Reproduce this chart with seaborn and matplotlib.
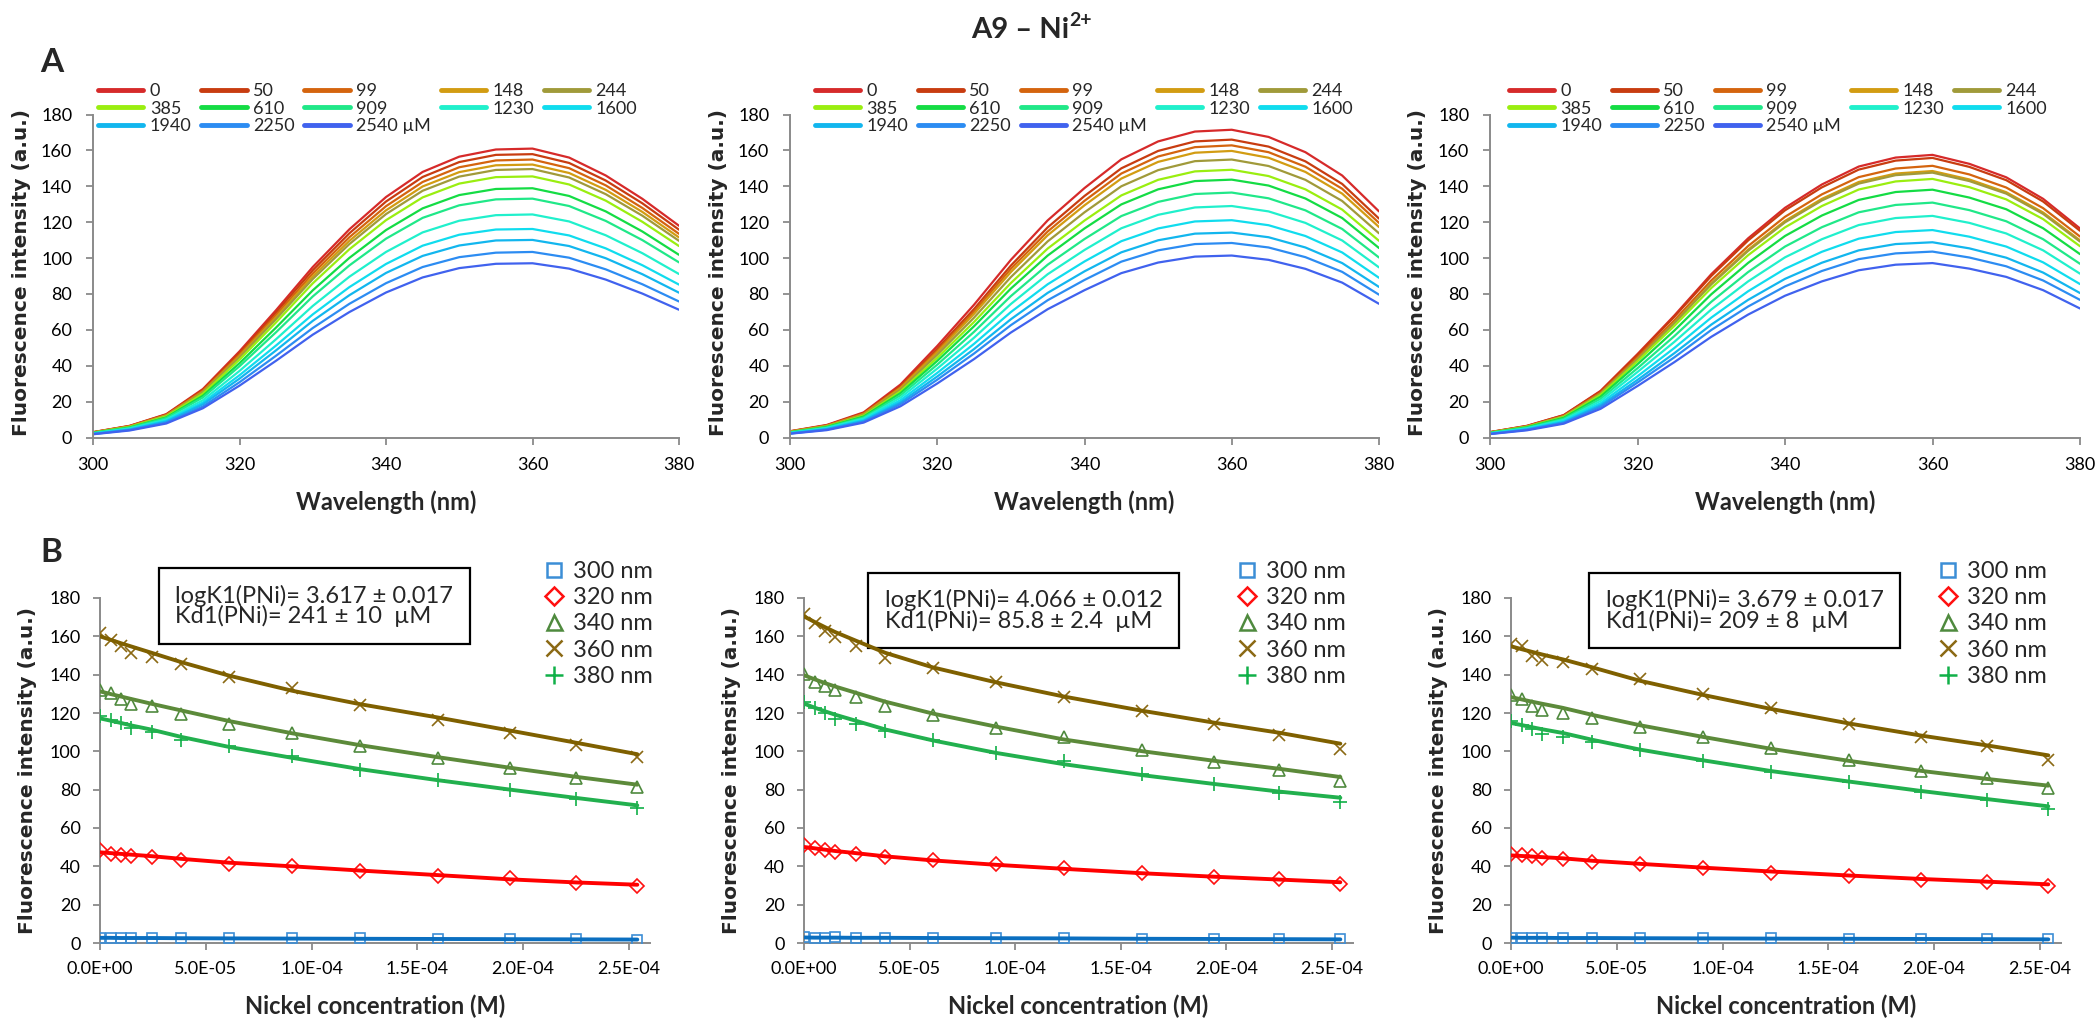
import matplotlib
matplotlib.use("Agg")
import matplotlib.pyplot as plt
import seaborn as sns
import pandas as pd
from matplotlib.lines import Line2D
from matplotlib.text import Annotation
from matplotlib.ticker import FuncFormatter, MultipleLocator

# ---------------- data ----------------
WAVELENGTH_NM = [300, 305, 310, 315, 320, 325, 330, 335, 340, 345, 350, 355, 360, 365, 370, 375, 380]
CONC_LABELS = ["0", "50", "99", "148", "244", "385", "610", "909", "1230", "1600", "1940", "2250", "2540 µM"]
SPECTRA_COLORS = ["#D62A2A", "#C83C10", "#D4640E", "#D29C12", "#A09A3A", "#9AEE10", "#14DC44",
                  "#20E888", "#20F0CC", "#10DCEE", "#12B6EE", "#2C8CF2", "#4062EE"]

SPECTRA_LEFT = [
    [3.0, 6.5, 13.0, 27.0, 48.0, 71.0, 95.0, 116.0, 134.0, 148.0, 156.5, 160.5, 161.0, 156.0, 146.0, 133.0, 118.0],
    [2.9, 6.4, 12.8, 26.5, 47.1, 69.7, 93.2, 113.8, 131.5, 145.2, 153.5, 157.5, 157.9, 153.0, 143.2, 130.5, 115.8],
    [2.9, 6.3, 12.5, 26.0, 46.2, 68.3, 91.4, 111.6, 128.9, 142.4, 150.6, 154.4, 154.9, 150.1, 140.5, 127.9, 113.5],
    [2.8, 6.1, 12.3, 25.5, 45.4, 67.1, 89.8, 109.6, 126.6, 139.9, 147.9, 151.7, 152.1, 147.4, 138.0, 125.7, 111.5],
    [2.8, 6.0, 12.1, 25.1, 44.6, 66.0, 88.3, 107.8, 124.5, 137.5, 145.4, 149.1, 149.6, 144.9, 135.6, 123.6, 109.6],
    [2.7, 5.9, 11.8, 24.4, 43.4, 64.2, 85.9, 104.9, 121.1, 133.8, 141.5, 145.1, 145.5, 141.0, 132.0, 120.2, 106.7],
    [2.6, 5.6, 11.2, 23.3, 41.4, 61.3, 82.0, 100.1, 115.6, 127.7, 135.1, 138.5, 138.9, 134.6, 126.0, 114.8, 101.8],
    [2.5, 5.4, 10.8, 22.3, 39.7, 58.7, 78.6, 95.9, 110.8, 122.4, 129.4, 132.7, 133.1, 129.0, 120.7, 110.0, 97.6],
    [2.3, 5.0, 10.0, 20.8, 37.1, 54.8, 73.3, 89.6, 103.4, 114.3, 120.8, 123.9, 124.3, 120.4, 112.7, 102.7, 91.1],
    [2.2, 4.7, 9.4, 19.5, 34.7, 51.3, 68.6, 83.8, 96.7, 106.9, 113.0, 115.9, 116.2, 112.6, 105.4, 96.0, 85.2],
    [2.1, 4.4, 8.9, 18.5, 32.8, 48.6, 65.0, 79.3, 91.7, 101.2, 107.0, 109.8, 110.1, 106.7, 99.9, 91.0, 80.7],
    [1.9, 4.2, 8.3, 17.3, 30.8, 45.6, 61.0, 74.5, 86.0, 95.0, 100.5, 103.0, 103.4, 100.2, 93.7, 85.4, 75.8],
    [1.8, 3.9, 7.8, 16.3, 28.9, 42.8, 57.3, 69.9, 80.8, 89.2, 94.4, 96.8, 97.1, 94.1, 88.0, 80.2, 71.2],
]
SPECTRA_MIDDLE = [
    [3.5, 7.0, 14.0, 29.5, 51.0, 74.0, 99.0, 121.0, 139.0, 155.0, 165.0, 170.5, 171.5, 167.5, 159.0, 146.0, 126.0],
    [3.4, 6.8, 13.6, 28.6, 49.4, 71.6, 95.8, 117.1, 134.6, 150.0, 159.7, 165.0, 166.0, 162.1, 153.9, 141.3, 122.0],
    [3.3, 6.6, 13.3, 28.0, 48.4, 70.2, 94.0, 114.8, 131.9, 147.1, 156.6, 161.8, 162.8, 159.0, 150.9, 138.6, 119.6],
    [3.3, 6.5, 13.0, 27.5, 47.5, 68.9, 92.2, 112.7, 129.4, 144.3, 153.6, 158.7, 159.7, 155.9, 148.0, 135.9, 117.3],
    [3.2, 6.3, 12.6, 26.6, 46.1, 66.8, 89.4, 109.3, 125.5, 140.0, 149.0, 154.0, 154.9, 151.3, 143.6, 131.8, 113.8],
    [3.0, 6.1, 12.2, 25.7, 44.4, 64.4, 86.1, 105.3, 120.9, 134.9, 143.6, 148.3, 149.2, 145.7, 138.3, 127.0, 109.6],
    [2.9, 5.9, 11.7, 24.7, 42.7, 62.0, 83.0, 101.4, 116.5, 129.9, 138.3, 142.9, 143.7, 140.4, 133.2, 122.3, 105.6],
    [2.8, 5.6, 11.1, 23.5, 40.6, 58.9, 78.8, 96.3, 110.6, 123.4, 131.3, 135.7, 136.5, 133.3, 126.6, 116.2, 100.3],
    [2.6, 5.3, 10.5, 22.2, 38.4, 55.6, 74.4, 91.0, 104.5, 116.6, 124.1, 128.2, 129.0, 126.0, 119.6, 109.8, 94.8],
    [2.5, 4.9, 9.9, 20.8, 36.0, 52.2, 69.9, 85.4, 98.1, 109.4, 116.5, 120.4, 121.1, 118.3, 112.3, 103.1, 89.0],
    [2.3, 4.7, 9.3, 19.6, 34.0, 49.3, 65.9, 80.6, 92.6, 103.2, 109.9, 113.6, 114.2, 111.6, 105.9, 97.2, 83.9],
    [2.2, 4.4, 8.8, 18.6, 32.2, 46.8, 62.6, 76.5, 87.8, 98.0, 104.3, 107.8, 108.4, 105.9, 100.5, 92.3, 79.6],
    [2.1, 4.1, 8.3, 17.4, 30.1, 43.7, 58.5, 71.5, 82.1, 91.6, 97.5, 100.8, 101.4, 99.0, 94.0, 86.3, 74.5],
]
SPECTRA_RIGHT = [
    [3.0, 6.5, 12.5, 26.0, 46.5, 68.0, 91.0, 111.0, 128.0, 141.0, 151.0, 156.0, 157.5, 152.5, 145.0, 133.0, 116.5],
    [3.0, 6.4, 12.4, 25.7, 46.0, 67.3, 90.0, 109.8, 126.6, 139.4, 149.3, 154.3, 155.8, 150.8, 143.4, 131.5, 115.2],
    [2.9, 6.2, 12.0, 25.0, 44.7, 65.3, 87.5, 106.7, 123.0, 135.5, 145.1, 149.9, 151.4, 146.6, 139.3, 127.8, 112.0],
    [2.8, 6.1, 11.8, 24.5, 43.8, 64.1, 85.8, 104.7, 120.7, 133.0, 142.4, 147.1, 148.5, 143.8, 136.7, 125.4, 109.9],
    [2.8, 6.1, 11.7, 24.4, 43.6, 63.7, 85.3, 104.0, 119.9, 132.1, 141.5, 146.2, 147.6, 142.9, 135.9, 124.6, 109.2],
    [2.7, 5.9, 11.4, 23.8, 42.5, 62.2, 83.3, 101.6, 117.1, 129.0, 138.2, 142.7, 144.1, 139.5, 132.7, 121.7, 106.6],
    [2.6, 5.7, 11.0, 22.8, 40.8, 59.6, 79.8, 97.3, 112.3, 123.7, 132.4, 136.8, 138.1, 133.7, 127.2, 116.6, 102.2],
    [2.5, 5.4, 10.4, 21.6, 38.6, 56.5, 75.6, 92.2, 106.4, 117.2, 125.5, 129.6, 130.9, 126.7, 120.5, 110.5, 96.8],
    [2.4, 5.1, 9.8, 20.4, 36.5, 53.3, 71.3, 87.0, 100.4, 110.5, 118.4, 122.3, 123.5, 119.6, 113.7, 104.3, 91.3],
    [2.2, 4.8, 9.2, 19.1, 34.1, 49.9, 66.8, 81.5, 94.0, 103.5, 110.8, 114.5, 115.6, 111.9, 106.4, 97.6, 85.5],
    [2.1, 4.5, 8.6, 18.0, 32.1, 47.0, 62.9, 76.7, 88.4, 97.4, 104.3, 107.8, 108.8, 105.4, 100.2, 91.9, 80.5],
    [2.0, 4.3, 8.2, 17.1, 30.6, 44.7, 59.9, 73.0, 84.2, 92.8, 99.4, 102.6, 103.6, 100.3, 95.4, 87.5, 76.7],
    [1.9, 4.0, 7.7, 16.0, 28.7, 42.0, 56.1, 68.5, 79.0, 87.0, 93.2, 96.3, 97.2, 94.1, 89.5, 82.1, 71.9],
]

NI_CONC_M = [0.0, 5.0e-6, 9.9e-6, 1.48e-5, 2.44e-5, 3.85e-5, 6.10e-5, 9.09e-5, 1.23e-4, 1.60e-4, 1.94e-4, 2.25e-4, 2.54e-4]
SERIES_NAMES = ["300 nm", "320 nm", "340 nm", "360 nm", "380 nm"]

# measured points (open markers)
POINTS_LEFT = [
    [2.8, 2.6, 2.7, 2.6, 2.6, 2.5, 2.6, 2.4, 2.4, 2.2, 2.1, 1.9, 1.8],
    [48.3, 46.6, 45.9, 45.6, 44.9, 43.1, 41.4, 40.2, 37.6, 35.1, 33.7, 31.5, 29.7],
    [132.2, 130.4, 127.5, 124.5, 123.8, 119.3, 114.4, 109.7, 102.6, 96.3, 91.5, 86.3, 81.4],
    [161.7, 157.9, 154.8, 151.5, 149.2, 145.7, 138.8, 132.9, 124.0, 116.5, 109.6, 103.1, 96.9],
    [118.3, 116.5, 115.0, 112.2, 110.3, 105.7, 102.6, 97.6, 90.4, 84.9, 80.0, 75.1, 70.4],
]
FITS_LEFT = [
    [2.7, 2.7, 2.6, 2.6, 2.6, 2.5, 2.4, 2.3, 2.2, 2.1, 2.0, 1.9, 1.8],
    [47.3, 46.9, 46.5, 46.1, 45.3, 43.9, 41.9, 40.0, 37.8, 35.4, 33.2, 31.6, 30.4],
    [131.3, 129.9, 128.6, 127.3, 124.8, 121.3, 115.8, 109.4, 103.2, 96.9, 91.4, 86.7, 82.6],
    [160.0, 158.2, 156.4, 154.7, 151.4, 146.5, 139.5, 131.6, 124.6, 117.6, 110.8, 104.5, 98.5],
    [117.2, 116.0, 114.8, 113.5, 111.3, 107.5, 102.3, 96.6, 90.7, 84.9, 80.0, 75.7, 71.8],
]
POINTS_MIDDLE = [
    [3.0, 2.8, 2.8, 2.9, 2.8, 2.7, 2.6, 2.5, 2.4, 2.3, 2.1, 2.0, 1.9],
    [51.0, 49.7, 48.7, 47.3, 46.6, 44.9, 43.1, 41.0, 39.0, 36.5, 34.4, 33.2, 31.0],
    [140.5, 136.2, 133.9, 131.8, 128.3, 123.5, 118.8, 112.2, 107.5, 100.5, 94.4, 90.4, 84.5],
    [171.8, 167.0, 162.8, 159.7, 155.1, 148.9, 143.7, 136.0, 128.3, 121.0, 114.4, 108.3, 101.4],
    [125.7, 122.8, 120.0, 116.7, 114.4, 110.6, 105.7, 99.3, 94.8, 88.3, 83.1, 78.3, 73.7],
]
FITS_MIDDLE = [
    [2.9, 2.8, 2.8, 2.8, 2.7, 2.7, 2.6, 2.5, 2.4, 2.2, 2.1, 2.0, 1.9],
    [50.1, 49.4, 48.7, 48.0, 46.9, 45.2, 43.1, 40.8, 38.7, 36.4, 34.6, 33.1, 31.7],
    [139.7, 137.6, 135.6, 133.8, 130.6, 125.9, 119.7, 112.9, 106.2, 100.1, 95.1, 90.9, 86.6],
    [170.4, 167.5, 164.8, 162.2, 157.8, 151.4, 143.8, 136.0, 128.6, 121.2, 115.0, 109.7, 104.0],
    [124.9, 122.8, 120.9, 119.1, 116.0, 111.4, 105.7, 99.2, 93.3, 87.6, 83.0, 79.0, 75.8],
]
POINTS_RIGHT = [
    [2.8, 2.7, 2.8, 2.7, 2.8, 2.6, 2.5, 2.6, 2.5, 2.3, 2.1, 2.0, 1.9],
    [46.6, 45.9, 45.2, 44.3, 43.7, 42.3, 41.0, 39.1, 36.7, 34.8, 33.0, 31.7, 29.9],
    [129.2, 127.5, 123.7, 121.4, 120.0, 117.6, 112.7, 107.5, 101.9, 95.7, 89.7, 85.9, 80.9],
    [155.8, 154.8, 149.7, 147.8, 146.4, 143.1, 137.6, 130.1, 122.8, 114.4, 107.5, 102.8, 95.7],
    [115.7, 113.6, 111.8, 109.2, 107.5, 104.9, 100.5, 95.0, 89.2, 84.0, 79.0, 74.8, 70.1],
]
FITS_RIGHT = [
    [2.8, 2.7, 2.7, 2.7, 2.6, 2.6, 2.5, 2.4, 2.3, 2.2, 2.1, 2.0, 1.9],
    [45.7, 45.4, 45.1, 44.8, 44.2, 42.9, 41.3, 39.3, 37.3, 35.2, 33.4, 32.0, 30.6],
    [128.3, 127.1, 125.9, 124.8, 122.7, 119.0, 113.6, 107.5, 101.3, 95.0, 89.8, 85.6, 82.1],
    [154.8, 153.3, 151.9, 150.5, 148.0, 143.8, 136.8, 129.4, 122.1, 114.5, 108.2, 103.1, 97.9],
    [114.8, 113.7, 112.6, 111.5, 109.6, 106.0, 100.9, 95.3, 89.7, 84.2, 79.3, 75.1, 71.3],
]
BOX_TEXTS = [
    "logK1(PNi)= 3.617 ± 0.017\nKd1(PNi)= 241 ± 10  µM",
    "logK1(PNi)= 4.066 ± 0.012\nKd1(PNi)= 85.8 ± 2.4  µM",
    "logK1(PNi)= 3.679 ± 0.017\nKd1(PNi)= 209 ± 8  µM",
]

# ---------------- style ----------------
sns.set_theme(style="white")
plt.rcParams["font.family"] = ["Lato", "DejaVu Sans"]

AXIS_GREY = "#8A8A8A"
LINE_COLORS = ["#0B6FC0", "#FF0000", "#5C8A3A", "#7F6000", "#22B04E"]
MARK_COLORS = ["#3C8ED6", "#FF1010", "#4F8A3E", "#8B6914", "#10B048"]
MARKERS = ["s", "D", "^", "x", "+"]
MSIZE = [7, 7, 8, 9, 10]
YLABEL = "Fluorescence intensity (a.u.)"

fig = plt.figure(figsize=(20.97, 10.23), dpi=100)
fig.patch.set_facecolor("white")

W, H = 2097.0, 1023.0
top_pos = [(93, 586), (790, 589), (1490, 590)]
bot_pos = [(100, 550), (804, 549), (1511, 550)]
top_leg_x = [0.009, 0.042, 0.032]


def style_axes(ax):
    for s in ["top", "right"]:
        ax.spines[s].set_visible(False)
    for s in ["left", "bottom"]:
        ax.spines[s].set_color(AXIS_GREY)
        ax.spines[s].set_linewidth(1.4)
    ax.tick_params(axis="both", direction="out", length=5, width=1.3, color=AXIS_GREY,
                   labelsize=13, labelcolor="black", left=True, bottom=True)
    ax.grid(False)
    ax.set_facecolor("white")


# ---------------- top row: spectra ----------------
for k, ((x0, w), spectra) in enumerate(zip(top_pos, [SPECTRA_LEFT, SPECTRA_MIDDLE, SPECTRA_RIGHT])):
    ax = fig.add_axes([x0 / W, 1 - 437.5 / H, w / W, 323 / H])
    rows = []
    for lab, vals in zip(CONC_LABELS, spectra):
        for wl, v in zip(WAVELENGTH_NM, vals):
            rows.append((wl, v, lab))
    df = pd.DataFrame(rows, columns=["wl", "I", "conc"])
    sns.lineplot(data=df, x="wl", y="I", hue="conc", hue_order=CONC_LABELS,
                 palette=SPECTRA_COLORS, ax=ax, legend=False, linewidth=1.6,
                 estimator=None, sort=False)
    ax.set_xlim(300, 380)
    ax.set_ylim(0, 180)
    ax.xaxis.set_major_locator(MultipleLocator(20))
    ax.yaxis.set_major_locator(MultipleLocator(20))
    style_axes(ax)
    ax.tick_params(axis="x", pad=9)
    ax.tick_params(axis="y", pad=10)
    ax.set_xlabel("Wavelength (nm)", fontsize=17, fontweight="bold")
    ax.set_ylabel(YLABEL, fontsize=14.5, fontweight="bold", family="DejaVu Sans")
    ax.xaxis.set_label_coords(0.5, -0.163)
    ax.yaxis.set_label_coords(-0.106, 0.51)
    lines = ax.get_lines()[:13]
    order = [0, 5, 10, 1, 6, 11, 2, 7, 12, 3, 8, 4, 9]
    leg = ax.legend([lines[i] for i in order], [CONC_LABELS[i] for i in order], ncol=5,
                    loc="upper left", bbox_to_anchor=(top_leg_x[k], 1.097), frameon=False,
                    handlelength=2.5, handletextpad=0.35, columnspacing=0.55,
                    labelspacing=0.08, fontsize=13, borderpad=0, borderaxespad=0)
    for h in leg.get_lines():
        h.set_linewidth(3.5)

# ---------------- bottom row: binding ----------------
box_x = [0.137, 0.147, 0.172]
box_y = [0.977, 0.964, 0.964]
leg_x = [0.804, 0.785, 0.773]
for k, ((x0, w), pts_all, fit_all) in enumerate(zip(bot_pos, [POINTS_LEFT, POINTS_MIDDLE, POINTS_RIGHT],
                                                       [FITS_LEFT, FITS_MIDDLE, FITS_RIGHT])):
    ax = fig.add_axes([x0 / W, 1 - 943 / H, w / W, 345 / H])
    for i in range(5):
        sns.lineplot(x=NI_CONC_M, y=pts_all[i], ax=ax, color=MARK_COLORS[i], linestyle="",
                     marker=MARKERS[i], markersize=MSIZE[i], markerfacecolor="none",
                     markeredgecolor=MARK_COLORS[i], markeredgewidth=1.2,
                     estimator=None, sort=False, zorder=3)
        sns.lineplot(x=NI_CONC_M, y=fit_all[i], ax=ax, color=LINE_COLORS[i], linewidth=2.8,
                     estimator=None, sort=False, zorder=4)
    ax.set_xlim(0, 2.6e-4)
    ax.set_ylim(0, 180)
    ax.xaxis.set_major_locator(MultipleLocator(5e-5))
    ax.yaxis.set_major_locator(MultipleLocator(20))
    ax.xaxis.set_major_formatter(FuncFormatter(lambda v, p: f"{v:.1E}"))
    style_axes(ax)
    ax.tick_params(axis="x", pad=8, labelsize=13)
    ax.tick_params(axis="y", pad=9)
    ax.set_xlabel("Nickel concentration (M)", fontsize=17, fontweight="bold")
    ax.set_ylabel(YLABEL, fontsize=14.5, fontweight="bold", family="DejaVu Sans")
    ax.xaxis.set_label_coords(0.5, -0.150)
    ax.yaxis.set_label_coords(-0.114, 0.5)
    ax.text(box_x[k], box_y[k], BOX_TEXTS[k], transform=ax.transAxes, ha="left", va="center",
            fontsize=17, linespacing=0.92, zorder=2,
            bbox=dict(boxstyle="square,pad=0.7", fc="white", ec="black", lw=1.6))
    handles = [Line2D([], [], linestyle="", marker=MARKERS[i], markersize=MSIZE[i] * 1.35,
                      markerfacecolor="none", markeredgecolor=MARK_COLORS[i],
                      markeredgewidth=1.8) for i in range(5)]
    ax.legend(handles, SERIES_NAMES, loc="upper left", bbox_to_anchor=(leg_x[k], 1.107),
              frameon=False, fontsize=17, handlelength=1.0, handletextpad=0.3,
              labelspacing=0.22, borderpad=0, borderaxespad=0)

# ---------------- figure texts ----------------
title = fig.text(1020 / W, 1 - 30 / H, "A9 – Ni", ha="center", va="center",
                 fontsize=21, fontweight="bold")
sup = Annotation("2+", xy=(1.0, 0.55), xycoords=title, ha="left", va="bottom",
                 fontsize=14, fontweight="bold")
fig.add_artist(sup)
fig.text(40 / W, 1 - 63 / H, "A", ha="left", va="center", fontsize=24, fontweight="bold")
fig.text(40 / W, 1 - 553 / H, "B", ha="left", va="center", fontsize=24, fontweight="bold")

fig.savefig("out.png", dpi=100, facecolor="white")
